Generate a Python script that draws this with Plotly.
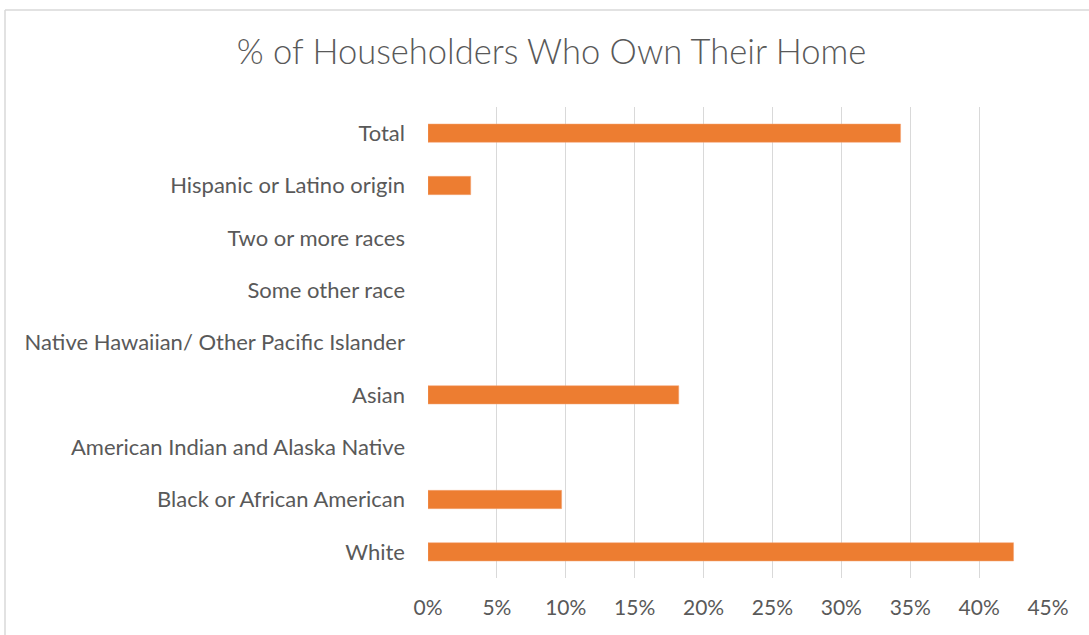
import plotly.graph_objects as go

categories = [
    "White",
    "Black or African American",
    "American Indian and Alaska Native",
    "Asian",
    "Native Hawaiian/ Other Pacific Islander",
    "Some other race",
    "Two or more races",
    "Hispanic or Latino origin",
    "Total",
]
values = [0.425, 0.097, None, 0.182, None, None, None, 0.031, 0.343]
tick_vals = [0, 0.05, 0.10, 0.15, 0.20, 0.25, 0.30, 0.35, 0.40, 0.45]
tick_text = ["0%", "5%", "10%", "15%", "20%", "25%", "30%", "35%", "40%", "45%"]

W, H = 1089, 635
L, R, T, B = 428, 1048, 107, 578

fig = go.Figure(
    go.Bar(
        y=categories,
        x=values,
        orientation="h",
        marker=dict(color="#ED7D31", line=dict(color="#F4A576", width=0.5)),
        width=0.35,
        hoverinfo="x+y",
    )
)

font_family = "Lato, Open Sans, sans-serif"
fig.update_layout(
    width=W,
    height=H,
    margin=dict(l=L, r=W - R, t=T, b=H - B, pad=0),
    paper_bgcolor="white",
    plot_bgcolor="white",
    showlegend=False,
    title=dict(
        text="% of Householders Who Own Their Home",
        x=551.5 / W,
        xref="container",
        xanchor="center",
        y=1 - 52 / H,
        yref="container",
        yanchor="middle",
        font=dict(family=font_family, size=34.5, color="#595959", weight=300),
    ),
    xaxis=dict(
        range=[0, 0.45],
        tickvals=tick_vals,
        ticktext=tick_text,
        showgrid=True,
        gridcolor="#D9D9D9",
        gridwidth=1.3,
        zeroline=False,
        showline=False,
        ticks="",
        ticklabelstandoff=15,
        tickfont=dict(family=font_family, size=21, color="#595959"),
        fixedrange=True,
    ),
    yaxis=dict(
        type="category",
        categoryorder="array",
        categoryarray=categories,
        showgrid=False,
        zeroline=False,
        showline=False,
        ticks="",
        ticklabelstandoff=22,
        tickfont=dict(family=font_family, size=22, color="#595959"),
        fixedrange=True,
    ),
    bargap=0.65,
)

# chart-area border (top and left edges visible in the reference)
x_left = (5 - L) / (R - L)
y_top = (B - 10) / (B - T)
fig.add_shape(type="line", xref="paper", yref="paper", x0=x_left, x1=(W - L) / (R - L) + 0.01,
              y0=y_top, y1=y_top, line=dict(color="#D9D9D9", width=1.5))
fig.add_shape(type="line", xref="paper", yref="paper", x0=x_left, x1=x_left,
              y0=y_top, y1=-0.2, line=dict(color="#D9D9D9", width=1.5))

fig.write_html(
    "out.html",
    config={"displayModeBar": False},
    post_script="document.body.style.margin='0';document.body.style.overflow='hidden';",
)
